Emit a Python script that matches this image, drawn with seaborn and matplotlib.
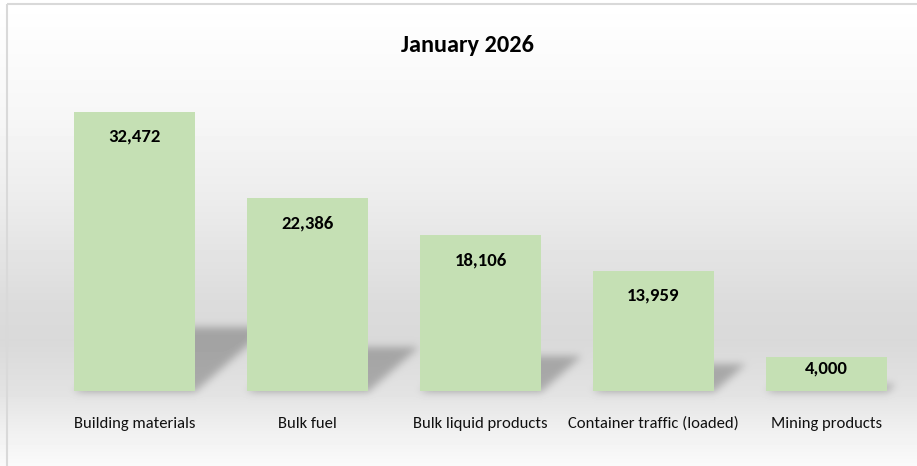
import numpy as np
import matplotlib
matplotlib.use("Agg")
import matplotlib.pyplot as plt
from matplotlib.patches import Rectangle
from matplotlib import font_manager
import seaborn as sns

# data
categories = ["Building materials", "Bulk fuel", "Bulk liquid products",
              "Container traffic (loaded)", "Mining products"]
values = [32472, 22386, 18106, 13959, 4000]
title = "January 2026"

bar_color = "#C5E0B4"

sns.set_theme(style="white")
names = {f.name for f in font_manager.fontManager.ttflist}
fam = next((f for f in ["Carlito", "Calibri", "Open Sans Condensed", "IBM Plex Sans Condensed",
                        "Liberation Sans Narrow"] if f in names), "DejaVu Sans")
plt.rcParams["font.family"] = [fam, "DejaVu Sans"]

W, H = 917, 466
fig = plt.figure(figsize=(W / 100, H / 100), dpi=100)
fig.patch.set_facecolor("white")

left, right, bottom, top = 48, 913, 391, 90
ax = fig.add_axes([left / W, 1 - bottom / H, (right - left) / W, (bottom - top) / H])
ax.set_facecolor("none")
sns.barplot(x=categories, y=values, color=bar_color, saturation=1, width=0.7,
            linewidth=0, ax=ax, zorder=3)
ax.set_ylim(0, 35000)
ax.set_xlim(-0.5, 4.5)
for s in ax.spines.values():
    s.set_visible(False)
ax.set_yticks([])
ax.set_ylabel("")
ax.tick_params(axis="x", length=0, pad=18.5, labelsize=12, labelcolor="#111111")

# background gradient
stops_y = [0, 120, 200, 300, 340, 390, 430, 466]
stops_v = [255, 246, 236, 220, 217, 226, 240, 250]
rows = np.interp(np.arange(H), stops_y, stops_v)
img = np.repeat(rows[:, None], W, axis=1)

# soft perspective shadows, placed from the bars' own positions
yy, xx = np.mgrid[0:H, 0:W]
mask = np.zeros((H, W))
for p in ax.patches:
    (xl, yb), (xr, yt) = ax.transData.transform([(p.get_x(), 0),
                                                (p.get_x() + p.get_width(), p.get_height())])
    yb, yt = H - yb, H - yt
    hpx = yb - yt
    k, s = 0.23, 0.26
    ytop = yb - k * hpx
    frac = np.clip((yb - yy) / max(k * hpx, 1), 0, None)
    inside = (yy <= yb) & (yy >= ytop) & (xx >= xl + frac * s * hpx) & (xx <= xr + frac * s * hpx)
    mask = np.maximum(mask, inside.astype(float))

def blur(a, sigma):
    r = int(3 * sigma)
    kx = np.exp(-0.5 * (np.arange(-r, r + 1) / sigma) ** 2)
    kx /= kx.sum()
    a = np.apply_along_axis(lambda m: np.convolve(m, kx, mode="same"), 1, a)
    return np.apply_along_axis(lambda m: np.convolve(m, kx, mode="same"), 0, a)

mask = blur(mask, 4)
img = img * (1 - 0.25 * mask)

bg = fig.add_axes([0, 0, 1, 1], zorder=-5)
bg.imshow(img / 255.0, cmap="gray", vmin=0, vmax=1, aspect="auto", extent=[0, W, H, 0],
          interpolation="nearest")
bg.add_patch(Rectangle((7, 4), W + 10, H + 10, fill=False, edgecolor="#D9D9D9", lw=1.5))
bg.set_xlim(0, W)
bg.set_ylim(H, 0)
bg.axis("off")

# value labels
ppy = (bottom - top) / 35000.0
for p, v in zip(ax.patches, values):
    hpx = p.get_height() * ppy
    off = min(25, hpx / 3)
    ax.annotate(f"{v:,}", (p.get_x() + p.get_width() / 2, p.get_height()),
                xytext=(0, -off), textcoords="offset pixels", ha="center", va="center",
                fontsize=13.5, fontweight="bold", color="black", zorder=5)

fig.text(467 / W, 1 - 45 / H, title, ha="center", va="center",
         fontsize=17.5, fontweight="bold", color="black")

fig.savefig("out.png", dpi=100)
